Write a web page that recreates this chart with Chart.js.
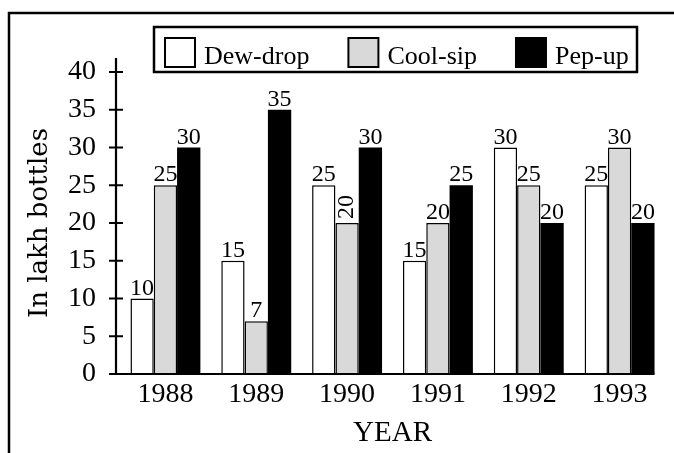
<!DOCTYPE html>
<html>
<head>
<meta charset="utf-8">
<script src="https://cdn.jsdelivr.net/npm/chart.js@4.4.0/dist/chart.umd.min.js"></script>
<style>
  html, body { margin: 0; padding: 0; background: #fff; }
  #wrap { position: relative; width: 674px; height: 453px; }
</style>
</head>
<body>
<div id="wrap"><canvas id="chart" width="674" height="453"></canvas></div>
<script>
// data
const years = ['1988', '1989', '1990', '1991', '1992', '1993'];
const dewDrop = [10, 15, 25, 15, 30, 25];
const coolSip = [25, 7, 20, 20, 25, 30];
const pepUp = [30, 35, 30, 25, 20, 20];
const seriesNames = ['Dew-drop', 'Cool-sip', 'Pep-up'];
const yTicks = [0, 5, 10, 15, 20, 25, 30, 35, 40];

const SERIF = '"Liberation Serif", "Times New Roman", serif';

// outer frame (top + left edges visible)
const framePlugin = {
  id: 'frame',
  beforeDraw(chart) {
    const ctx = chart.ctx;
    ctx.save();
    ctx.strokeStyle = '#000';
    ctx.lineWidth = 2.5;
    ctx.beginPath();
    ctx.moveTo(9, 460);
    ctx.lineTo(9, 13);
    ctx.lineTo(680, 13);
    ctx.stroke();
    ctx.restore();
  }
};

// axis lines with cross ticks
const axesPlugin = {
  id: 'crossAxes',
  afterDatasetsDraw(chart) {
    const {ctx, chartArea, scales: {y}} = chart;
    const ax = chartArea.left - 4;
    const y0 = y.getPixelForValue(0);
    const yTop = y.getPixelForValue(40) - 14;
    const meta = chart.getDatasetMeta(chart.data.datasets.length - 1);
    const last = meta.data[meta.data.length - 1];
    const xEnd = last.x + last.width / 2;
    ctx.save();
    ctx.strokeStyle = '#000';
    ctx.lineWidth = 2.2;
    ctx.beginPath();
    ctx.moveTo(ax, yTop);
    ctx.lineTo(ax, y0);
    ctx.moveTo(ax - 7, y0);
    ctx.lineTo(xEnd, y0);
    yTicks.forEach(v => {
      const py = y.getPixelForValue(v);
      ctx.moveTo(ax - 7, py);
      ctx.lineTo(ax + 7, py);
    });
    ctx.stroke();
    ctx.restore();
  }
};

// value labels above the bars
const valueLabels = {
  id: 'valueLabels',
  afterDatasetsDraw(chart) {
    const ctx = chart.ctx;
    ctx.save();
    ctx.fillStyle = '#000';
    ctx.font = '24px ' + SERIF;
    ctx.textAlign = 'center';
    chart.data.datasets.forEach((ds, di) => {
      chart.getDatasetMeta(di).data.forEach((bar, i) => {
        const txt = String(ds.data[i]);
        if (di === 1 && i === 2) {
          // this one is printed sideways in the source
          ctx.save();
          ctx.translate(bar.x, bar.y - 4);
          ctx.rotate(-Math.PI / 2);
          ctx.textAlign = 'left';
          ctx.textBaseline = 'middle';
          ctx.fillText(txt, 0, 0);
          ctx.restore();
        } else {
          ctx.textBaseline = 'alphabetic';
          ctx.fillText(txt, bar.x, bar.y - 4);
        }
      });
    });
    ctx.restore();
  }
};

// boxed legend row
const boxLegend = {
  id: 'boxLegend',
  afterDraw(chart) {
    const ctx = chart.ctx;
    ctx.save();
    ctx.font = '26px ' + SERIF;
    ctx.textBaseline = 'alphabetic';
    ctx.textAlign = 'left';
    let x = 165;
    chart.data.datasets.forEach(ds => {
      ctx.fillStyle = ds.backgroundColor;
      ctx.fillRect(x, 38, 30, 29);
      ctx.strokeStyle = '#000';
      ctx.lineWidth = 2;
      ctx.strokeRect(x, 38, 30, 29);
      ctx.fillStyle = '#000';
      ctx.fillText(ds.label, x + 39, 64);
      x += 39 + ctx.measureText(ds.label).width + 39;
    });
    ctx.lineWidth = 2.5;
    ctx.strokeRect(154, 27, 483, 45);
    ctx.restore();
  }
};

new Chart(document.getElementById('chart'), {
  type: 'bar',
  data: {
    labels: years,
    datasets: [
      {label: seriesNames[0], data: dewDrop, backgroundColor: '#ffffff', borderColor: '#000', borderWidth: 1.5},
      {label: seriesNames[1], data: coolSip, backgroundColor: '#d9d9d9', borderColor: '#000', borderWidth: 1.5},
      {label: seriesNames[2], data: pepUp, backgroundColor: '#000000', borderColor: '#000', borderWidth: 0}
    ]
  },
  options: {
    responsive: false,
    animation: false,
    devicePixelRatio: 1,
    datasets: {bar: {categoryPercentage: 0.77, barPercentage: 1}},
    layout: {padding: {left: 0, right: 9, top: 72, bottom: 0}},
    plugins: {legend: {display: false}, tooltip: {enabled: false}},
    scales: {
      x: {
        grid: {display: false, drawTicks: false},
        border: {display: false},
        ticks: {color: '#000', font: {family: SERIF, size: 28}, padding: 4},
        title: {display: true, text: 'YEAR', color: '#000', font: {family: SERIF, size: 29}, padding: {top: 0, bottom: 2}},
        afterFit: s => { s.height = 79; }
      },
      y: {
        min: 0, max: 40,
        grid: {display: false, drawTicks: false},
        border: {display: false},
        ticks: {stepSize: 5, color: '#000', font: {family: SERIF, size: 28}, padding: 24},
        title: {display: true, text: 'In lakh bottles', color: '#000', font: {family: '"DejaVu Serif", serif', size: 26}, padding: {top: 25, bottom: 0}},
        afterFit: s => { s.width = 120; }
      }
    }
  },
  plugins: [framePlugin, axesPlugin, valueLabels, boxLegend]
});
</script>
</body>
</html>
